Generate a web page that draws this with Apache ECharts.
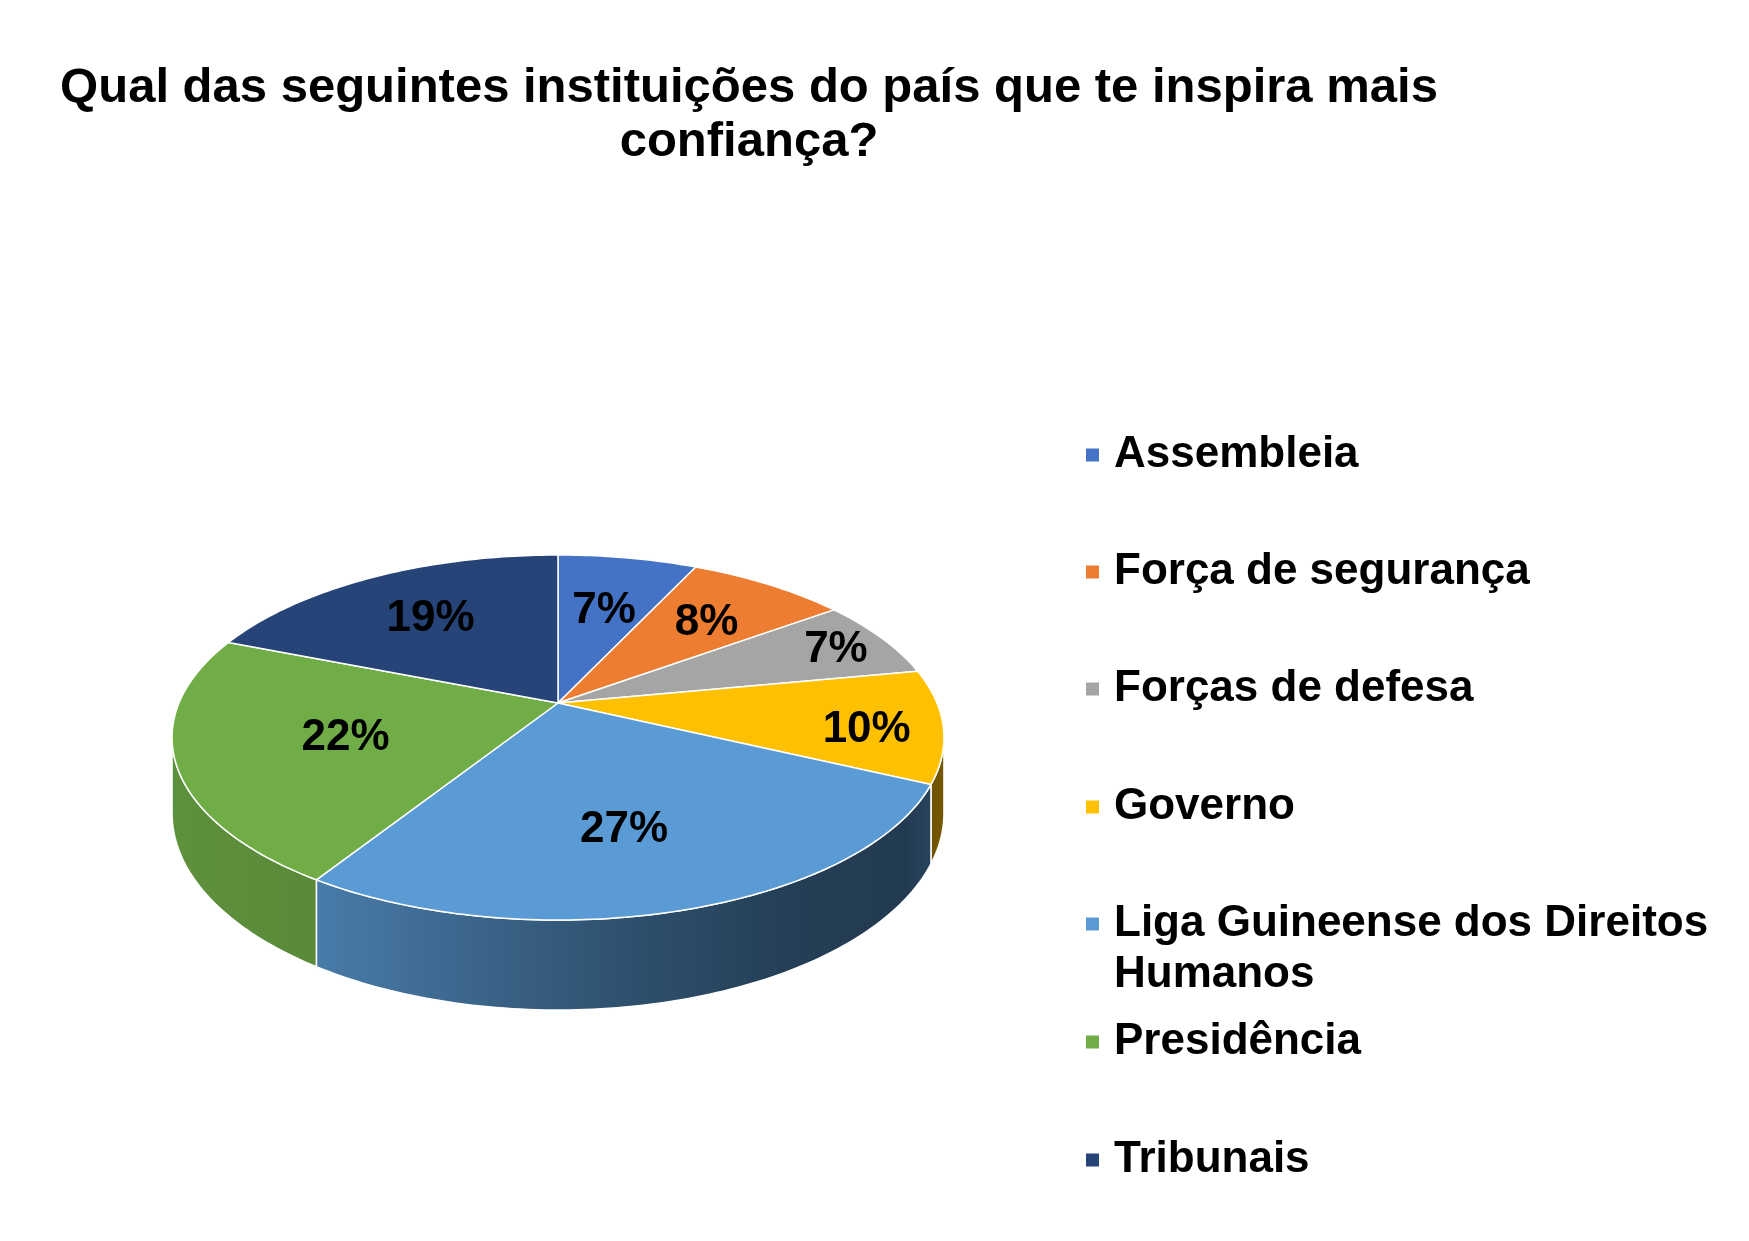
<!DOCTYPE html>
<html>
<head>
<meta charset="utf-8">
<script src="https://cdn.jsdelivr.net/npm/echarts@6/dist/echarts.min.js"></script>
<style>
html,body{margin:0;padding:0;background:#ffffff;}
#chart{width:1749px;height:1241px;}
</style>
</head>
<body>
<div id="chart"></div>
<script>
// ---------------- data ----------------
const titleText = 'Qual das seguintes instituições do país que te inspira mais\nconfiança?';
const categories = [
  'Assembleia',
  'Força de segurança',
  'Forças de defesa',
  'Governo',
  'Liga Guineense dos Direitos Humanos',
  'Presidência',
  'Tribunais'
];
const values = [7, 8, 7, 10, 27, 22, 19];

// ---------------- style ----------------
const colors = ['#4472C4', '#ED7D31', '#A5A5A5', '#FFC000', '#5B9BD5', '#70AD47', '#264478'];
const FONT = "'Liberation Sans', Arial, Helvetica, sans-serif";
const PIE = { cx: 558, cy: 703, rx: 379, ry: 176, persp: 0.189, depth: 73 };
const labelRadius = [0.62, 0.675, 0.85, 0.805, 0.64, 0.57, 0.66];
const labelShift = [0, 0, 0, 0.04, 0.04, 0, 0];   // small angular nudge (radians)
const legendIconY = [455, 572, 689, 807, 924, 1042, 1160];
const LEG_FONT = 44, LEG_LH = 51, ICON = 13;
const wallLight = [[0, 0.84], [0.18, 0.80], [0.58, 0.52], [0.81, 0.40], [0.95, 0.38], [1, 0.46]];

const total = values.reduce((a, b) => a + b, 0);
const TWO_PI = Math.PI * 2;

function proj(theta, r, down) {
  const X = r * Math.sin(theta), Z = r * Math.cos(theta);
  const f = 1 / (1 + PIE.persp * Math.cos(theta));
  const fz = 1 / (1 + PIE.persp * Z);
  return [PIE.cx + PIE.rx * X * fz, PIE.cy - PIE.ry * Z * fz + down * PIE.depth * f];
}
function shade(hex, k) {
  const n = parseInt(hex.slice(1), 16);
  const r = Math.round(((n >> 16) & 255) * k);
  const g = Math.round(((n >> 8) & 255) * k);
  const b = Math.round((n & 255) * k);
  return 'rgb(' + r + ',' + g + ',' + b + ')';
}
function arcPoints(a, b, down) {
  const pts = [];
  const steps = Math.max(2, Math.ceil((b - a) / (Math.PI / 180)));
  for (let s = 0; s <= steps; s++) {
    pts.push(proj(a + (b - a) * s / steps, 1, down));
  }
  return pts;
}

const silA = Math.acos(-PIE.persp);          // right silhouette angle
const silB = TWO_PI - silA;                   // left silhouette angle
const xSpan = PIE.rx / Math.sqrt(1 - PIE.persp * PIE.persp);
const xL = PIE.cx - xSpan, xR = PIE.cx + xSpan;

function makeRenderItem(i) {
  return function (params, api) {
    const v = api.value(0);
    const before = values.slice(0, i).reduce((a, b) => a + b, 0);
    const start = before / total * TWO_PI;
    const end = start + v / total * TWO_PI;
    const children = [];

    // side wall (only the part facing the viewer)
    const a = Math.max(start, silA), b = Math.min(end, silB);
    if (b > a) {
      const top = arcPoints(a, b, 0);
      const bottom = arcPoints(a, b, 1).reverse();
      children.push({
        type: 'polygon',
        z2: 1,
        shape: { points: top.concat(bottom) },
        style: {
          fill: new echarts.graphic.LinearGradient(xL, 0, xR, 0,
            wallLight.map(s => ({ offset: s[0], color: shade(colors[i], s[1]) })), true),
          stroke: '#ffffff',
          lineWidth: 1.5,
          lineJoin: 'round'
        }
      });
    }

    // top face
    const pts = [proj(0, 0, 0)].concat(arcPoints(start, end, 0));
    children.push({
      type: 'polygon',
      z2: 2,
      shape: { points: pts },
      style: { fill: colors[i], stroke: '#ffffff', lineWidth: 1.5, lineJoin: 'round' }
    });

    // data label
    const mid = (start + end) / 2 + labelShift[i];
    const lp = proj(mid, labelRadius[i], 0);
    children.push({
      type: 'text',
      z2: 10,
      style: {
        text: v + '%',
        x: lp[0], y: lp[1] + 3,
        align: 'center', verticalAlign: 'middle',
        textAlign: 'center', textVerticalAlign: 'middle',
        fill: '#000000',
        fontSize: 44, fontWeight: 'bold', fontFamily: FONT
      }
    });
    return { type: 'group', children: children };
  };
}

// long names wrap onto a second line; a leading empty line keeps the
// first text line level with the legend marker
function legendLabel(name) {
  return name.length > 30 ? '\n' + name.replace('Direitos ', 'Direitos\n') : name;
}

const legends = categories.map((name, i) => {
  const lines = legendLabel(name).split('\n').length;
  const boxH = lines * LEG_LH;
  return {
    data: [name],
    orient: 'vertical',
    left: 1086,
    top: legendIconY[i] - boxH / 2,
    padding: 0,
    itemWidth: ICON,
    itemHeight: ICON,
    icon: 'rect',
    selectedMode: false,
    itemStyle: { borderWidth: 0 },
    formatter: legendLabel,
    textStyle: {
      fontFamily: FONT, fontSize: LEG_FONT, fontWeight: 'bold', color: '#000000',
      lineHeight: LEG_LH, padding: [0, 0, 0, 10]
    }
  };
});

const chart = echarts.init(document.getElementById('chart'), null, { renderer: 'canvas' });
chart.setOption({
  backgroundColor: '#ffffff',
  animation: false,
  title: {
    text: titleText,
    left: 749,
    top: 61,
    padding: 0,
    textAlign: 'center',
    textStyle: { fontFamily: FONT, fontSize: 49, fontWeight: 'bold', color: '#000000', lineHeight: 54 }
  },
  legend: legends,
  series: categories.map((name, i) => ({
    type: 'custom',
    name: name,
    coordinateSystem: 'none',
    itemStyle: { color: colors[i] },
    data: [values[i]],
    renderItem: makeRenderItem(i)
  }))
});
</script>
</body>
</html>
